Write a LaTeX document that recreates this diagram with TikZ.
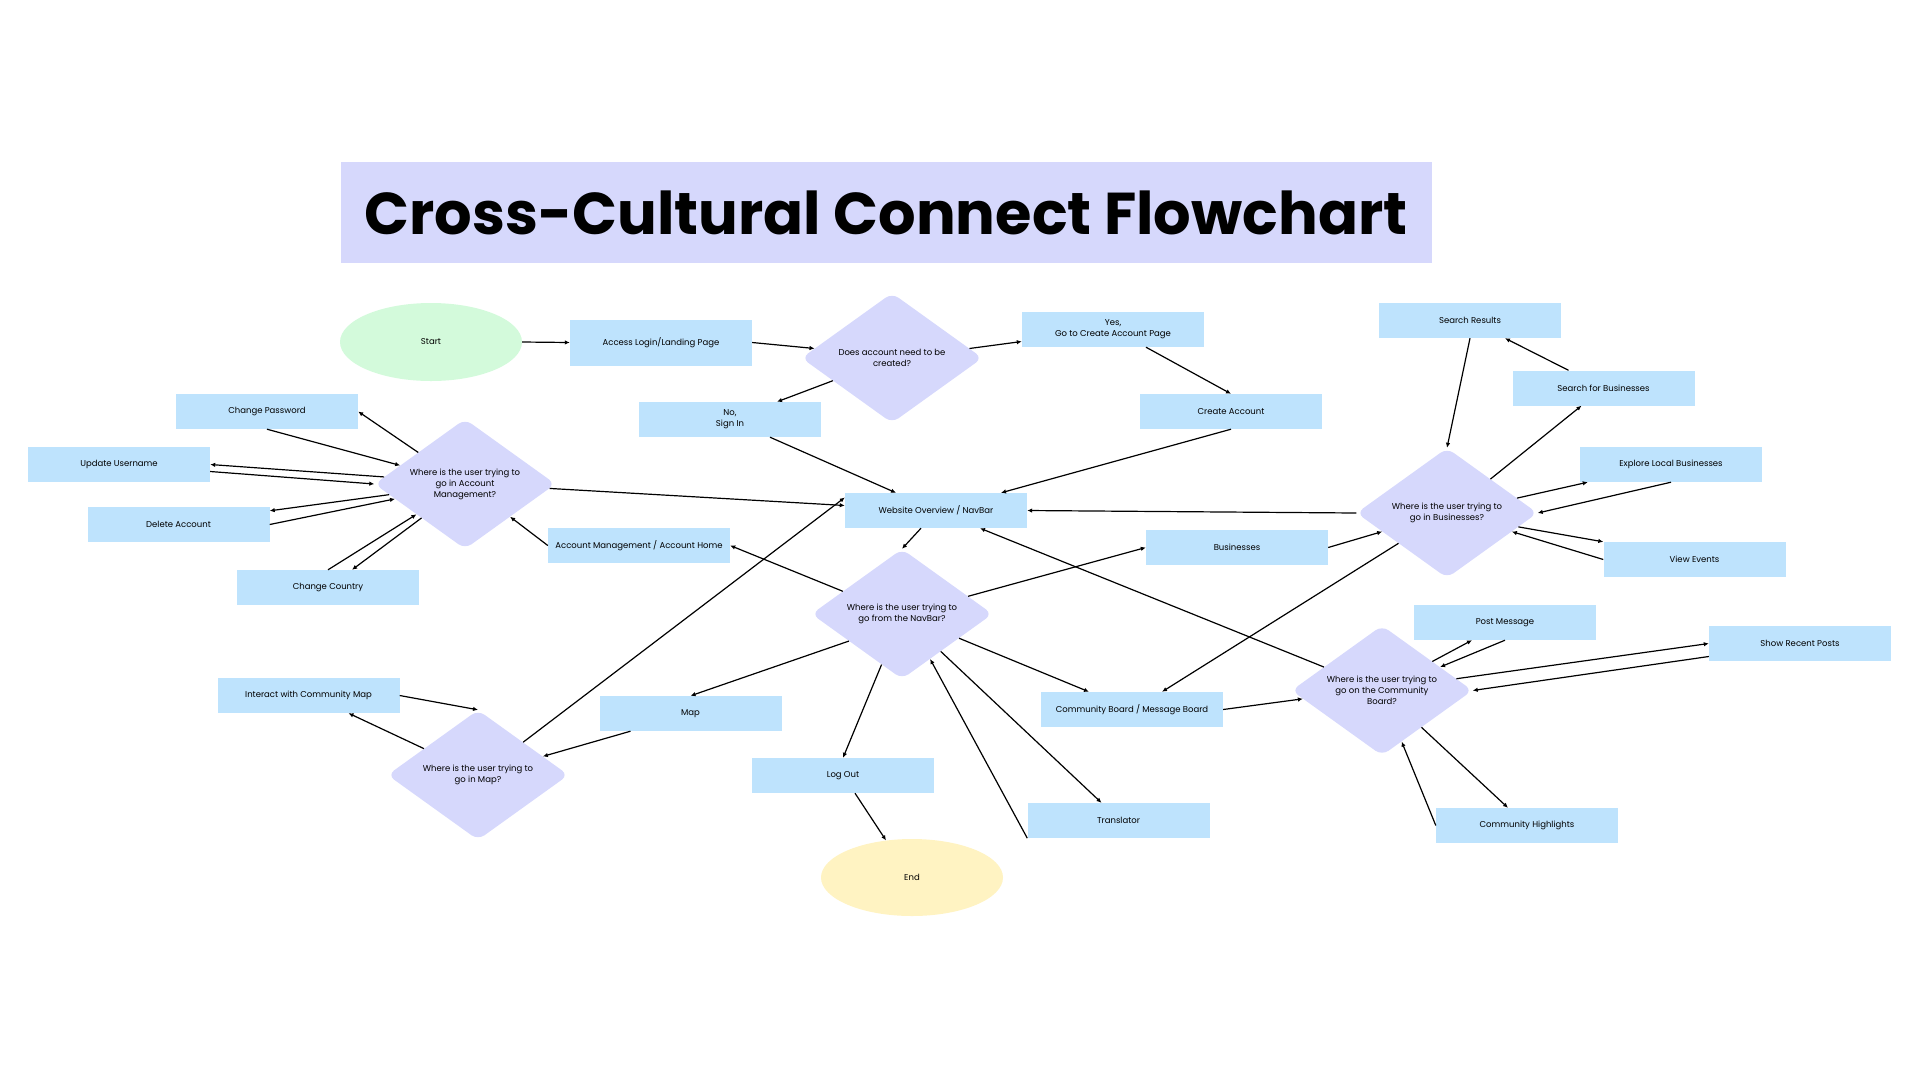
\documentclass[tikz,border=0pt]{standalone}
\usepackage{fontspec}
\setmainfont{Poppins}
\usepackage{tikz}
\usepackage{xcolor}
\usetikzlibrary{shapes.geometric,arrows.meta}
\definecolor{boxblue}{HTML}{BEE3FD}
\definecolor{lilac}{HTML}{D6D8FC}
\definecolor{mint}{HTML}{D3FADB}
\definecolor{cream}{HTML}{FFF3C2}

\begin{document}
\begin{tikzpicture}[
  x=1pt, y=-1pt,
  font=\fontsize{8.5}{11}\selectfont,
  box/.style={fill=boxblue, minimum width=182pt, minimum height=35pt, inner sep=0, align=center},
  ask/.style={diamond, aspect=1.4, fill=lilac, rounded corners=8pt, minimum width=181pt, minimum height=130pt, inner sep=0, align=center},
  term/.style={ellipse, minimum width=182pt, minimum height=78pt, inner sep=0},
  arr/.style={-{Latex[length=5pt,width=4.5pt]}, line width=1.2pt},
]
\useasboundingbox (0,0) rectangle (1920,1080);
% --- tytul ---
\node[fill=lilac, minimum width=1091pt, minimum height=101pt, font=\fontsize{59}{59}\selectfont\bfseries] (title) at (886,212.5) {Cross-Cultural Connect Flowchart};
% --- logowanie ---
\node[term, fill=mint] (start) at (431,342) {Start};
\node[box, minimum height=46pt] (access) at (661,342.5) {Access Login/Landing Page};
\node[ask] (needacc) at (892,358) {Does account need to be\\created?};
\node[box] (yes) at (1113,329.5) {Yes,\\Go to Create Account Page};
\node[box] (no) at (730,419.5) {No,\\Sign In};
\node[box] (create) at (1231,411.5) {Create Account};
\node[box] (navbar) at (936,510.5) {Website Overview / NavBar};
% --- konto ---
\node[ask] (accq) at (465,484) {Where is the user trying to\\go in Account\\Management?};
\node[box] (chpw) at (267,411.5) {Change Password};
\node[box] (user) at (119,464.5) {Update Username};
\node[box] (delacc) at (178.5,524.5) {Delete Account};
\node[box] (country) at (328,587.5) {Change Country};
\node[box] (acchome) at (639,545.5) {Account Management / Account Home};
% --- navbar ---
\node[ask] (navq) at (902,614) {Where is the user trying to\\go from the NavBar?};
\node[box] (logout) at (843,775.5) {Log Out};
\node[term, fill=cream, minimum height=77pt] (end) at (912,877.5) {End};
\node[box] (transl) at (1118.5,820.5) {Translator};
\node[box] (board) at (1132,709.5) {Community Board / Message Board};
\node[box] (biz) at (1237,547.5) {Businesses};
\node[box] (map) at (690.5,713.5) {Map};
% --- mapa ---
\node[ask] (mapq) at (478,775) {Where is the user trying to\\go in Map?};
\node[box] (commap) at (308.5,695.5) {Interact with Community Map};
% --- firmy ---
\node[ask] (bizq) at (1447,513) {Where is the user trying to\\go in Businesses?};
\node[box] (results) at (1470,320.5) {Search Results};
\node[box] (search) at (1603.5,388) {Search for Businesses};
\node[box] (explore) at (1671,464.5) {Explore Local Businesses};
\node[box] (events) at (1694.5,559.5) {View Events};
% --- tablica ---
\node[ask] (boardq) at (1382,690.5) {Where is the user trying to\\go on the Community\\Board?};
\node[box] (post) at (1505,622.5) {Post Message};
\node[box] (recent) at (1800,643.5) {Show Recent Posts};
\node[box] (highl) at (1527,825.5) {Community Highlights};

% ===================== strzalki =====================
\draw[arr] (start.east) -- (access.west);
\draw[arr] (access.east) -- (needacc.173);
\draw[arr] (needacc.7) -- ([yshift=-12pt]yes.west);
\draw[arr] ([xshift=33pt]yes.south) -- (create.north);
\draw[arr] (needacc.201) -- ([xshift=47pt]no.north);
\draw[arr] ([xshift=40pt]no.south) -- ([xshift=-40pt]navbar.north);
\draw[arr] (create.south) -- ([xshift=65pt]navbar.north);
\draw[arr] ([xshift=-15pt]navbar.south) -- (navq.north);
% konto
\draw[arr] (chpw.south) -- (accq.164);
\draw[arr] (accq.146) -- (chpw.east);
\draw[arr] (accq.175) -- (user.east);
\draw[arr] ([yshift=-7pt]user.east) -- (accq.west);
\draw[arr] (accq.188) -- ([yshift=-4pt]delacc.north east);
\draw[arr] (delacc.east) -- (accq.192);
\draw[arr] (country.north) -- (accq.212);
\draw[arr] (accq.218) -- ([xshift=24pt]country.north);
\draw[arr] (acchome.west) -- (accq.324);
\draw[arr] (accq.357) -- ([yshift=5pt]navbar.west);
% navbar
\draw[arr] (navq.159) -- (acchome.east);
\draw[arr] (navq.15) -- (biz.west);
\draw[arr] (navq.207) -- (map.north);
\draw[arr] (navq.248) -- (logout.north);
\draw[arr] ([xshift=12pt]logout.south) -- (end.125);
\draw[arr] (navq.316) -- ([xshift=-17pt]transl.north);
\draw[arr] (transl.south west) -- (navq.302);
\draw[arr] (navq.337) -- ([xshift=-43pt]board.north);
% mapa
\draw[arr] (commap.east) -- (mapq.north);
\draw[arr] (mapq.154) -- ([xshift=40pt]commap.south);
\draw[arr] ([xshift=-60pt]map.south) -- (mapq.16);
\draw[arr] (mapq.36) -- ([yshift=13pt]navbar.west);
% firmy
\draw[arr] (bizq.west) -- (navbar.east);
\draw[arr] (biz.east) -- (bizq.196);
\draw[arr] (bizq.212) -- ([xshift=30pt]board.north);
\draw[arr] (results.south) -- (bizq.north);
\draw[arr] (bizq.38) -- ([xshift=-22pt]search.south);
\draw[arr] ([xshift=-35pt]search.north) -- ([xshift=35pt]results.south);
\draw[arr] (bizq.12) -- ([xshift=8pt]explore.south west);
\draw[arr] (explore.south) -- (bizq.east);
\draw[arr] (bizq.349) -- (events.north west);
\draw[arr] (events.west) -- (bizq.344);
% tablica
\draw[arr] (board.east) -- (boardq.186);
\draw[arr] (boardq.158) -- ([xshift=44pt]navbar.south);
\draw[arr] (boardq.30) -- ([xshift=-33pt]post.south);
\draw[arr] (post.south) -- (boardq.22);
\draw[arr] (boardq.9) -- (recent.west);
\draw[arr] ([yshift=-13pt]recent.west) -- (boardq.east);
\draw[arr] (boardq.317) -- ([xshift=-19pt]highl.north);
\draw[arr] (highl.west) -- (boardq.291);
\end{tikzpicture}
\end{document}
